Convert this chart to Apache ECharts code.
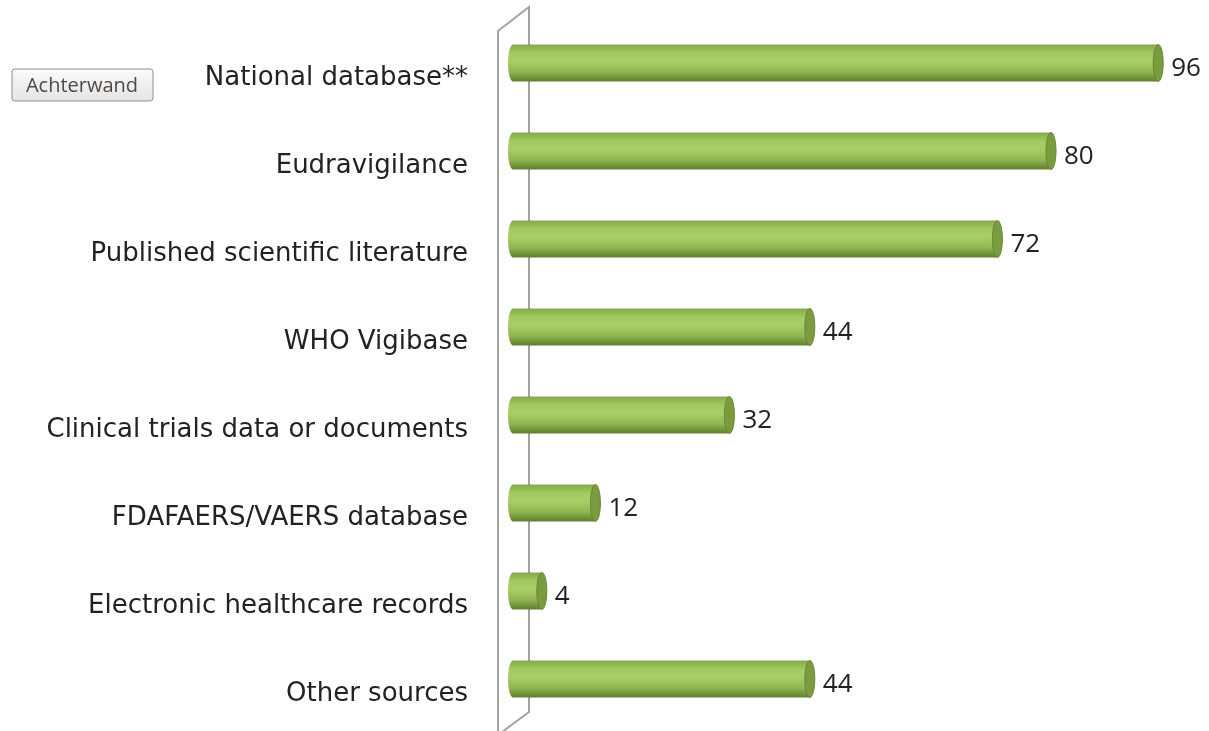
<!DOCTYPE html>
<html>
<head>
<meta charset="utf-8">
<script src="https://cdn.jsdelivr.net/npm/echarts@6/dist/echarts.min.js"></script>
<style>
  html, body { margin: 0; padding: 0; background: #fff; }
  #chart { width: 1209px; height: 731px; }
</style>
</head>
<body>
<div id="chart"></div>
<script>
'use strict';

const categories = [
    'National database**',
    'Eudravigilance',
    'Published scientific literature',
    'WHO Vigibase',
    'Clinical trials data or documents',
    'FDAFAERS/VAERS database',
    'Electronic healthcare records',
    'Other sources'
];
const values = [96, 80, 72, 44, 32, 12, 4, 44];

const fontFamily = '"Open Sans", Lato, sans-serif';

// body gradient of the cylinder
const bodyFill = new echarts.graphic.LinearGradient(0, 0, 0, 1, [
    { offset: 0, color: '#86a84a' },
    { offset: 0.25, color: '#a4cb63' },
    { offset: 0.45, color: '#a8cf66' },
    { offset: 0.75, color: '#8fb352' },
    { offset: 1, color: '#5f7d2c' }
]);

const renderCylinder = function (params, api) {
    const cat = api.value(0);
    const val = api.value(1);
    const start = api.coord([0, cat]);
    const end = api.coord([val, cat]);
    const h = api.size([0, 1])[1] * 0.42;
    const y = start[1] - h / 2;
    const rx = 5;
    const x0 = start[0] - 12;
    const x1 = end[0] - rx;

    return {
        type: 'group',
        children: [
            {
                type: 'ellipse',
                shape: { cx: x0 + rx, cy: start[1], rx: rx, ry: h / 2 },
                style: { fill: bodyFill }
            },
            {
                type: 'rect',
                shape: { x: x0 + rx, y: y, width: Math.max(x1 - x0 - rx, 0), height: h },
                style: { fill: bodyFill }
            },
            {
                type: 'ellipse',
                shape: { cx: x1, cy: start[1], rx: rx, ry: h / 2 },
                style: { fill: '#7b9b3f', stroke: '#6a8734', lineWidth: 1 }
            },
            {
                type: 'text',
                x: end[0] + 8,
                y: start[1] + 6,
                style: {
                    text: String(val),
                    fill: '#222',
                    font: '26px ' + fontFamily,
                    align: 'left',
                    verticalAlign: 'middle'
                }
            }
        ]
    };
};

const chart = echarts.init(document.getElementById('chart'));

chart.setOption({
    animation: false,
    grid: { left: 520, right: 19, top: 19, bottom: 8 },
    xAxis: {
        type: 'value',
        min: 0,
        max: 100,
        show: false
    },
    yAxis: {
        type: 'category',
        data: categories,
        inverse: true,
        axisLine: { show: false },
        axisTick: { show: false },
        axisLabel: {
            margin: 52,
            color: '#222',
            fontSize: 26,
            fontFamily: '"DejaVu Sans", sans-serif',
            lineHeight: 30,
            verticalAlign: 'middle',
            // labels sit a little below the bars, as on the 3D floor
            formatter: (v) => '\n' + v
        }
    },
    graphic: [
        {
            type: 'polyline',
            z: 0,
            shape: { points: [[498, 735], [498, 31], [529, 7], [529, 712], [498, 735]] },
            style: { fill: null, stroke: '#a3a3a3', lineWidth: 2 }
        },
        {
            type: 'rect',
            shape: { x: 12, y: 69, width: 141, height: 32, r: 3 },
            style: {
                fill: new echarts.graphic.LinearGradient(0, 0, 0, 1, [
                    { offset: 0, color: '#fbfbfb' },
                    { offset: 1, color: '#e4e4e4' }
                ]),
                stroke: '#8f8f8f',
                lineWidth: 1
            }
        },
        {
            type: 'text',
            x: 82,
            y: 86,
            style: {
                text: 'Achterwand',
                fill: '#4f4a45',
                font: '20px ' + fontFamily,
                align: 'center',
                verticalAlign: 'middle'
            }
        }
    ],
    series: [
        {
            type: 'custom',
            renderItem: renderCylinder,
            encode: { x: 1, y: 0 },
            data: values.map((v, i) => [i, v])
        }
    ]
});
</script>
</body>
</html>
